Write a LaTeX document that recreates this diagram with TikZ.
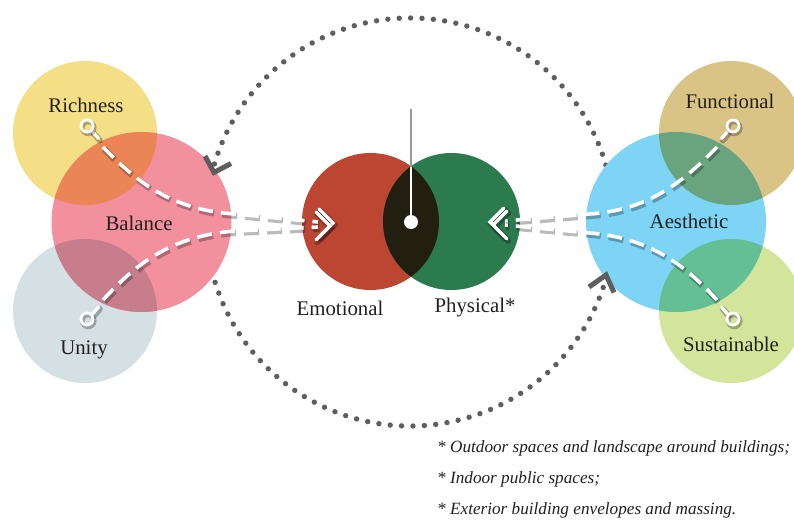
\documentclass[tikz,border=0pt]{standalone}
\usepackage{fontspec}
\setmainfont{Liberation Serif}
\usetikzlibrary{calc}

% circle fills
\definecolor{cRich}{HTML}{F5DF86}
\definecolor{cBal}{HTML}{F3909E}
\definecolor{cUni}{HTML}{D4E0E3}
\definecolor{cAes}{HTML}{7ED4F5}
\definecolor{cFun}{HTML}{D9C486}
\definecolor{cSus}{HTML}{D3E49B}
\definecolor{cEmo}{HTML}{BD4632}
\definecolor{cPhy}{HTML}{2B7B4E}
% overlaps
\definecolor{cRichBal}{HTML}{EC8555}
\definecolor{cUniBal}{HTML}{C87D8C}
\definecolor{cFunAes}{HTML}{6AA47E}
\definecolor{cSusAes}{HTML}{65BF94}
\definecolor{cEmoPhy}{HTML}{221F10}
\definecolor{cDots}{HTML}{5E5E5E}
\definecolor{cText}{HTML}{231F20}

\begin{document}
\begin{tikzpicture}[x=1pt,y=-1pt,
  lbl/.style={text=cText,font=\fontsize{20.8}{24}\selectfont,inner sep=0pt},
  note/.style={text=cText,font=\fontsize{17.2}{20}\selectfont\itshape,inner sep=0pt,anchor=base west},
  dotline/.style={draw=cDots,line width=5.4pt,line cap=round,dash pattern=on 0pt off 11.4pt},
  cyclemark/.style={draw=cDots,line width=5pt,line join=miter},
  shadowline/.style={draw=black,opacity=0.27,line width=6pt,
    transform canvas={shift={(1.3pt,-2pt)}}},
  flowline/.style={draw=white,line width=3.6pt,dash pattern=on 15pt off 8pt,
    preaction={shadowline,dash pattern=on 15pt off 8pt}},
  solidflow/.style={draw=white,line width=3.4pt,line cap=round,line join=miter,
    preaction={shadowline,line cap=round}},
  pinring/.style={draw=white,line width=2.8pt,preaction={shadowline,line width=4.5pt}},
]
\useasboundingbox (0,0) rectangle (794,519);
\clip (0,0) rectangle (794,519);

% ---- dotted cycle around the centre ----
\coordinate (cyc) at (410,222);
\draw[dotline] (cyc) ++(-13:204) arc[start angle=-13,end angle=-166,radius=204];
\draw[dotline] (cyc) ++(-194:204) arc[start angle=-194,end angle=-345,radius=204];

% ---- left cluster ----
\fill[cRich] (85,133) circle[radius=72];
\fill[cUni] (85,311) circle[radius=72];
\fill[cBal] (141.5,222) circle[radius=90];
\begin{scope}
  \clip (141.5,222) circle[radius=90];
  \fill[cRichBal] (85,133) circle[radius=72];
  \fill[cUniBal] (85,311) circle[radius=72];
\end{scope}

% ---- right cluster ----
\fill[cFun] (731,133) circle[radius=72];
\fill[cSus] (731,311) circle[radius=72];
\fill[cAes] (676,222) circle[radius=90];
\begin{scope}
  \clip (676,222) circle[radius=90];
  \fill[cFunAes] (731,133) circle[radius=72];
  \fill[cSusAes] (731,311) circle[radius=72];
\end{scope}

% ---- centre pair ----
\fill[cEmo] (370.5,221.5) circle[radius=68.5];
\fill[cPhy] (451.5,221.5) circle[radius=68.5];
\begin{scope}
  \clip (370.5,221.5) circle[radius=68.5];
  \fill[cEmoPhy] (451.5,221.5) circle[radius=68.5];
\end{scope}

% direction marks on the cycle
\coordinate (tipL) at (214,172.5);
\draw[cyclemark] (205,156) -- (tipL) -- (231,163.5);
\coordinate (tipR) at (606,275);
\draw[cyclemark] (589,287) -- (tipR) -- (614,292.5);

% named anchors of the circles
\coordinate (richPin) at (87,126);
\coordinate (uniPin) at (87,319);
\coordinate (funPin) at (733,126);
\coordinate (susPin) at (733,319);
\coordinate (emoIn) at (333,223);
\coordinate (phyIn) at (490,222);
\coordinate (hub) at (411,222);

% ---- flows into Emotional ----
\draw[flowline] (103,147) .. controls (135,180) and (170,210) .. (235,214) -- (318,222);
\draw[flowline] (103,300) .. controls (135,265) and (170,236) .. (235,231) -- (318,227);
\draw[solidflow] (92.5,131.5) -- (98.5,138.5);
\draw[pinring] (richPin) circle[radius=6];
\draw[solidflow] (92.5,314) -- (98.5,307);
\draw[pinring] (uniPin) circle[radius=6];
\draw[solidflow] ($(emoIn)+(-14,-14)$) -- (emoIn) -- ($(emoIn)+(-14,14)$);
\draw[solidflow] ($(emoIn)+(-17,-11)$) -- ($(emoIn)+(-3,3)$) -- ($(emoIn)+(-17,17)$);

% ---- flows into Physical ----
\draw[flowline] (717,147) .. controls (685,180) and (650,210) .. (590,214) -- (505,221);
\draw[flowline] (717,300) .. controls (685,265) and (650,238) .. (590,233) -- (505,225);
\draw[solidflow] (727.5,131.5) -- (721.5,138.5);
\draw[pinring] (funPin) circle[radius=6];
\draw[solidflow] (727.5,314) -- (721.5,307);
\draw[pinring] (susPin) circle[radius=6];
\draw[solidflow] ($(phyIn)+(14,-14)$) -- (phyIn) -- ($(phyIn)+(14,14)$);
\draw[solidflow] ($(phyIn)+(17,-11)$) -- ($(phyIn)+(3,3)$) -- ($(phyIn)+(17,17)$);

% ---- central needle ----
\draw[draw=black!40,line width=2.6pt] (411,109) -- (411,167);
\draw[draw=white,line width=2.4pt] (411,167) -- (hub);
\fill[white] (hub) circle[radius=7];

% ---- labels ----
\node[lbl] (richness) at (86,105) {Richness};
\node[lbl] (balance) at (139,223) {Balance};
\node[lbl] (unity) at (84,350) {Unity};
\node[lbl] (functional) at (730,101) {Functional};
\node[lbl] (aesthetic) at (689,221) {Aesthetic};
\node[lbl] (sustainable) at (731,344) {Sustainable};
\node[lbl] (emotional) at (340,308) {Emotional};
\node[lbl] (physical) at (475,308) {Physical*};

% ---- notes ----
\node[note] (n1) at (437,452) {* Outdoor spaces and landscape around buildings;};
\node[note] (n2) at (437,483) {* Indoor public spaces;};
\node[note] (n3) at (437,514) {* Exterior building envelopes and massing.};
\end{tikzpicture}
\end{document}
